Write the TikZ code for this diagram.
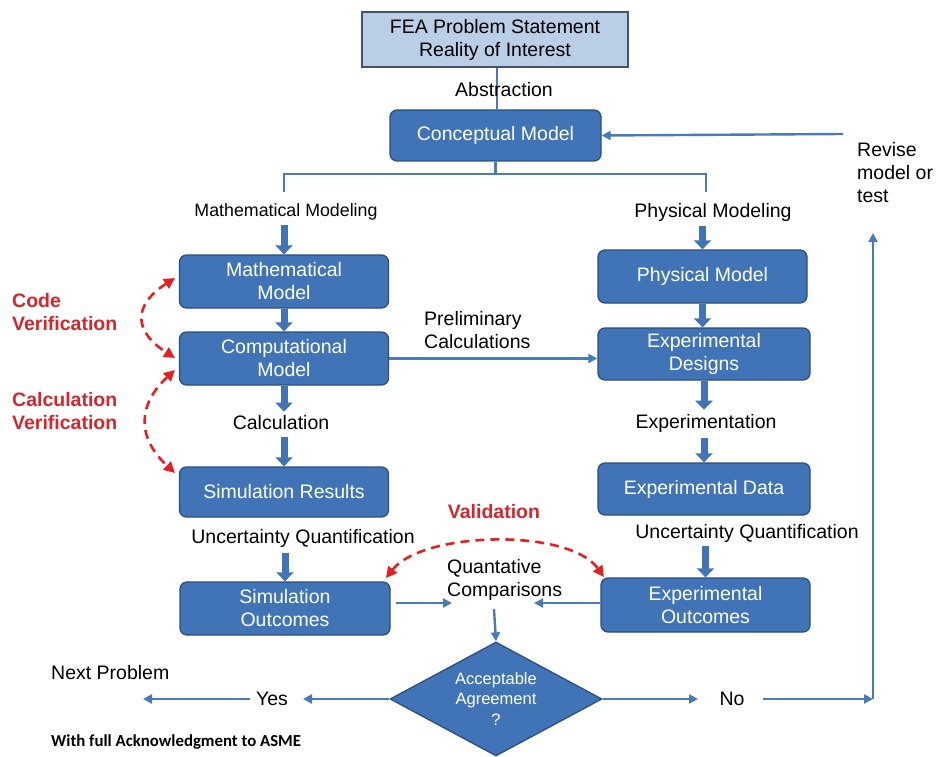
\documentclass[tikz,border=0pt]{standalone}
\usepackage{fontspec}
\setmainfont{Liberation Sans}
\newfontfamily\ackfont{Carlito}
\usetikzlibrary{arrows.meta,shapes.geometric}
\definecolor{boxblue}{RGB}{64,116,182}
\definecolor{boxedge}{RGB}{44,78,128}
\definecolor{lineblue}{RGB}{72,122,188}
\definecolor{feafill}{RGB}{186,206,230}
\definecolor{feaedge}{RGB}{62,84,112}
\definecolor{redarr}{RGB}{228,32,32}
\definecolor{redtxt}{RGB}{214,38,44}
\newcommand{\fsz}{\fontsize{19.5}{23}\selectfont}
\begin{document}
\begin{tikzpicture}[x=1pt,y=-1pt,
  every node/.style={font=\fsz, inner sep=1pt},
  box/.style={draw=boxedge, line width=1.3pt, fill=boxblue, rounded corners=7pt, text=white, align=center, minimum width=209pt, minimum height=53pt, inner sep=0pt},
  lbl/.style={text=black, align=center},
  conn/.style={draw=lineblue, line width=2.4pt, -{Triangle[length=9pt,width=9pt]}},
  lnk/.style={draw=lineblue, line width=2.4pt},
  blk/.style={draw=boxblue, line width=7pt, -{Triangle[length=9pt,width=17pt]}},
  vdash/.style={draw=redarr, line width=2.6pt, dash pattern=on 9pt off 6pt, {Triangle[length=11pt,width=11pt]}-{Triangle[length=11pt,width=11pt]}},
  redlbl/.style={text=redtxt, font=\fsz\bfseries, align=left, anchor=west}
]
\useasboundingbox (0,0) rectangle (938,757);
\fill[white] (0,0) rectangle (938,757);

% top
\node[draw=feaedge, fill=feafill, line width=1.5pt, minimum width=266pt, minimum height=55pt, align=center, inner sep=0pt] (fea) at (495,39.5) {FEA Problem Statement\\Reality of Interest};
\node[box, minimum width=211pt, minimum height=51pt] (concept) at (495.5,135.5) {Conceptual Model};
\draw[lnk] (fea.south -| 497,0) -- (concept.north -| 497,0);
\node[lbl] (abs) at (504,90) {Abstraction};

% split
\coordinate (split) at (495.5,174);
\coordinate (L) at (284,174);
\coordinate (Ld) at (284,192);
\coordinate (R) at (706,174);
\coordinate (Rd) at (706,192);
\draw[lnk] (concept.south) -- (split);
\draw[lnk] (Ld) -- (L) -- (R) -- (Rd);

\node[lbl, font=\fontsize{17.8}{21}\selectfont] (mmlbl) at (286,212) {Mathematical Modeling};
\node[lbl] (pmlbl) at (713,212) {Physical Modeling};

% left column
\node[box] (math) at (284,281.5) {Mathematical\\Model};
\node[box] (comp) at (284,358.5) {Computational\\Model};
\node[lbl] (calc) at (281,423) {Calculation};
\node[box, minimum height=50pt] (simres) at (284,492) {Simulation Results};
\node[lbl] (uql) at (303,538) {Uncertainty Quantification};
\node[box, minimum width=210pt] (simout) at (285,608.5) {Simulation\\Outcomes};

% right column
\node[box] (phys) at (702.5,276.5) {Physical Model};
\node[box, minimum width=212pt, minimum height=52pt] (expdes) at (704,354) {Experimental\\Designs};
\node[lbl] (expt) at (706,423) {Experimentation};
\node[box, minimum width=212pt, minimum height=52pt] (expdata) at (704,489) {Experimental Data};
\node[lbl] (uqr) at (747,533) {Uncertainty Quantification};
\node[box, minimum height=54pt] (expout) at (705.5,605) {Experimental\\Outcomes};

% block arrows
\draw[blk] ([yshift=-4pt]mmlbl.south -| math.north) -- (math.north);
\draw[blk] (math.south) -- (comp.north);
\draw[blk] (comp.south) -- ([yshift=3pt]comp.south |- calc.north);
\draw[blk] ([yshift=-6pt]calc.south -| simres.north) -- (simres.north);
\draw[blk] ([yshift=-5pt]uql.south -| simout.north) -- (simout.north);
\draw[blk] ([yshift=-4pt]pmlbl.south -| phys.north) -- (phys.north);
\draw[blk] (phys.south) -- (phys.south |- expdes.north);
\draw[blk] (expdes.south) -- ([yshift=3pt]expdes.south |- expt.north);
\draw[blk] ([yshift=-5pt]expt.south -| expdata.north) -- (expdata.north);
\draw[blk] ([yshift=-3pt]uqr.south -| expout.north) -- (expout.north);

% preliminary
\node[lbl, align=left, anchor=west] (prelim) at (423,330) {Preliminary\\Calculations};
\draw[conn] (comp.east) -- (comp.east -| expdes.west);

% quantitative comparisons
\node[lbl, align=left, anchor=west] (quant) at (446,580) {Quantative\\Comparisons};
\coordinate (qL) at (452,603);
\coordinate (qR) at (534,603);
\coordinate (qD) at (494,609);
\draw[conn] ([xshift=5pt]simout.east |- qL) -- (qL);
\draw[conn] (expout.west |- qR) -- (qR);

% decision
\node[diamond, shape aspect=2, draw=boxedge, fill=boxblue, line width=1.3pt, minimum width=212pt, minimum height=114pt, inner sep=0pt, text=white, align=center, font=\fontsize{16.5}{20.5}\selectfont] (dia) at (496,699) {Acceptable\\Agreement\\?};
\draw[conn] (qD) -- (dia.north);

\node[lbl] (yes) at (272,699) {Yes};
\node[lbl] (no) at (732,699) {No};
\coordinate (np) at (143,699);
\coordinate (corner) at (873,699);
\coordinate (up) at (873,233);
\draw[conn] (dia.west) -- (dia.west -| 303,0);
\draw[conn] ([xshift=-5pt]yes.west) -- (np);
\draw[conn] (dia.east) -- (dia.east -| 698,0);
\draw[conn] ([xshift=17pt]no.east) -- (corner);
\draw[conn] (corner) -- (up);

\node[lbl, align=left, anchor=west] (revise) at (856,173) {Revise\\model or\\test};
\coordinate (rv) at (843,134);
\draw[conn] (rv) -- (concept.east);

\node[lbl, anchor=west] (next) at (50,673) {Next Problem};
\node[anchor=west, font={\ackfont\fontsize{16.8}{19}\selectfont\bfseries}] (ack) at (50,742) {With full Acknowledgment to ASME};

% red verification / validation
\node[redlbl] (codev) at (11,312) {Code\\Verification};
\node[redlbl] (calcv) at (11,411) {Calculation\\Verification};
\node[text=redtxt, font=\fsz\bfseries] (valid) at (494,512) {Validation};
\coordinate (cv1) at (175,278);
\coordinate (cv2) at (175,358);
\coordinate (kv1) at (175,370);
\coordinate (kv2) at (175,473);
\coordinate (vv1) at (386,578);
\coordinate (vv2) at (604,577);
\draw[vdash] (cv1) .. controls (133,305) and (133,331) .. (cv2);
\draw[vdash] (kv1) .. controls (137,405) and (137,438) .. (kv2);
\draw[vdash] (vv1) .. controls (423,531) and (569,528) .. (vv2);
\end{tikzpicture}
\end{document}
